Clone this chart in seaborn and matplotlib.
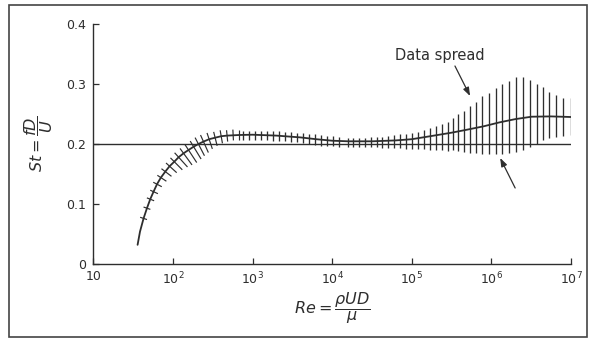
import numpy as np
import matplotlib
matplotlib.use("Agg")
import matplotlib.pyplot as plt
import seaborn as sns
from matplotlib.patches import Rectangle
from matplotlib.ticker import NullLocator
from matplotlib.collections import LineCollection

# ---------------- data ----------------
# centre curve St(Re)
curve_re = [36, 38.6, 42.8, 47.2, 51.9, 57.1, 63.1, 70.6, 80.2, 90.8, 104, 118, 136,
            157, 182, 209, 242, 285, 339, 404, 479, 676, 1000, 2000, 4000, 6300,
            1.0e4, 1.6e4, 3.2e4, 6.3e4, 1.0e5, 1.8e5, 3.2e5, 5.0e5, 8.0e5, 1.26e6,
            2.0e6, 3.2e6, 5.6e6, 1.0e7]
curve_st = [0.032, 0.054, 0.076, 0.093, 0.108, 0.1205, 0.133, 0.144, 0.154, 0.163, 0.1705,
            0.178, 0.1845, 0.19, 0.1955, 0.2, 0.204, 0.208, 0.2105, 0.213, 0.214, 0.215,
            0.2155, 0.214, 0.211, 0.208, 0.2055, 0.2045, 0.2045, 0.206, 0.208, 0.2135,
            0.219, 0.224, 0.2295, 0.236, 0.2415, 0.2455, 0.246, 0.245]

# slanted spread hatches on the rising branch (centre on curve, extent above / below)
slant_re = [42.8, 47.2, 51.9, 57.1, 63.1, 70.6, 80.2, 90.8, 104, 118, 136, 157, 182,
            209, 242, 285, 339, 404, 479, 571, 676]
slant_st = [0.076, 0.093, 0.108, 0.1205, 0.133, 0.144, 0.154, 0.163, 0.1705, 0.178,
            0.1845, 0.19, 0.1955, 0.2, 0.204, 0.208, 0.2105, 0.213, 0.214, 0.215, 0.215]
slant_up = [0.006, 0.006, 0.006, 0.006, 0.007, 0.007, 0.008, 0.008, 0.009, 0.010, 0.010,
            0.011, 0.011, 0.012, 0.012, 0.011, 0.010, 0.010, 0.009, 0.009, 0.008]
slant_dn = [0.006, 0.006, 0.007, 0.008, 0.009, 0.011, 0.013, 0.016, 0.019, 0.022, 0.024,
            0.025, 0.024, 0.022, 0.020, 0.017, 0.014, 0.012, 0.010, 0.009, 0.009]

# vertical spread bars
bar_re = [753, 904, 1074, 1268, 1507, 1795, 2153, 2559, 3048, 3589, 4276, 5082, 6095,
          7261, 8551, 10190, 12110, 15700, 18450, 21980, 25880, 30830, 36310, 42760,
          50820, 60390, 71290, 84720, 1.0e5, 1.189e5, 1.426e5, 1.694e5, 2.018e5,
          2.382e5, 2.831e5, 3.27e5, 3.85e5, 4.54e5, 5.40e5, 6.42e5, 7.71e5, 9.35e5,
          1.135e6, 1.352e6, 1.667e6, 2.03e6, 2.48e6, 3.06e6, 3.78e6, 4.50e6, 5.31e6,
          6.44e6, 8.04e6, 9.95e6]
bar_hi = [0.2225, 0.2225, 0.2225, 0.222, 0.222, 0.2215, 0.221, 0.2205, 0.220, 0.219,
          0.218, 0.217, 0.216, 0.215, 0.214, 0.213, 0.2115, 0.2095, 0.2095, 0.2105,
          0.2105, 0.211, 0.211, 0.212, 0.2133, 0.2145, 0.216, 0.2167, 0.2178, 0.220,
          0.2233, 0.226, 0.230, 0.2333, 0.237, 0.2428, 0.250, 0.255, 0.2633, 0.2705,
          0.280, 0.2855, 0.2928, 0.300, 0.3055, 0.311, 0.311, 0.3067, 0.300, 0.2945,
          0.2872, 0.2817, 0.2762, 0.2762]
bar_lo = [0.2065, 0.2065, 0.2065, 0.206, 0.206, 0.2055, 0.205, 0.2045, 0.204, 0.203,
          0.2015, 0.200, 0.1985, 0.1975, 0.1965, 0.196, 0.1958, 0.1955, 0.1955, 0.1945,
          0.1945, 0.1945, 0.1945, 0.194, 0.194, 0.193, 0.193, 0.192, 0.192, 0.191,
          0.191, 0.190, 0.190, 0.190, 0.189, 0.190, 0.1883, 0.1867, 0.1845, 0.1845,
          0.1833, 0.1828, 0.1828, 0.1833, 0.1845, 0.1872, 0.190, 0.1945, 0.200, 0.2067,
          0.2095, 0.2122, 0.2133, 0.215]

ref_st = 0.2
x_ticks = [10, 1e2, 1e3, 1e4, 1e5, 1e6, 1e7]
x_labels = ["10", r"$10^2$", r"$10^3$", r"$10^4$", r"$10^5$", r"$10^6$", r"$10^7$"]
y_ticks = [0, 0.1, 0.2, 0.3, 0.4]
y_labels = ["0", "0.1", "0.2", "0.3", "0.4"]

note_text = "Data spread"
note_pos = (2.26e5, 0.348)
arrow1_head, arrow1_tail = (5.4e5, 0.28), (3.49e5, 0.330)
arrow2_head, arrow2_tail = (1.29e6, 0.1767), (1.99e6, 0.1267)

# ---------------- style ----------------
sns.set_theme(style="ticks")
plt.rcParams["font.family"] = ["DejaVu Sans"]
plt.rcParams["mathtext.fontset"] = "dejavusans"
ink = "#2e2e2e"

fig = plt.figure(figsize=(5.89, 3.39), dpi=100)
fig.patch.set_facecolor("white")
ax = fig.add_axes([0.1584, 0.2212, 0.8110, 0.708])
ax.set_facecolor("white")
ax.set_xscale("log")
ax.set_xlim(10, 1e7)
ax.set_ylim(0, 0.4)

# reference line St = 0.2
ax.axhline(ref_st, color=ink, lw=1.0, zorder=2)

# centre curve
sns.lineplot(x=curve_re, y=curve_st, ax=ax, color=ink, lw=1.3, sort=False,
             estimator=None, zorder=3)

# vertical spread bars
ax.vlines(bar_re, bar_lo, bar_hi, color=ink, lw=0.95, zorder=2)

# slanted hatches, perpendicular to the curve in display space
pts = ax.transData.transform(np.column_stack([slant_re, slant_st]))
tx = np.gradient(pts[:, 0])
ty = np.gradient(pts[:, 1])
nrm = np.hypot(tx, ty)
nx, ny = -ty / nrm, tx / nrm
px_per_st = (ax.transData.transform((10, 0.1)) - ax.transData.transform((10, 0.0)))[1] / 0.1
up = np.asarray(slant_up) * px_per_st
dn = np.asarray(slant_dn) * px_per_st
p_top = np.column_stack([pts[:, 0] + nx * up, pts[:, 1] + ny * up])
p_bot = np.column_stack([pts[:, 0] - nx * dn, pts[:, 1] - ny * dn])
inv = ax.transData.inverted()
d_top = inv.transform(p_top)
d_bot = inv.transform(p_bot)
segs = [[tuple(a), tuple(b)] for a, b in zip(d_top, d_bot)]
ax.add_collection(LineCollection(segs, colors=ink, linewidths=0.85, zorder=2))

# annotation
ax.text(*note_pos, note_text, ha="center", va="center", fontsize=10.5, color=ink)
aprops = dict(arrowstyle="-|>,head_length=0.5,head_width=0.18", color=ink, lw=0.9,
              shrinkA=0, shrinkB=0, mutation_scale=10)
ax.annotate("", xy=arrow1_head, xytext=arrow1_tail, arrowprops=aprops)
ax.annotate("", xy=arrow2_head, xytext=arrow2_tail, arrowprops=aprops)

# axes, ticks, labels
sns.despine(ax=ax)
for s in ("left", "bottom"):
    ax.spines[s].set_color(ink)
    ax.spines[s].set_linewidth(1.0)
ax.set_xticks(x_ticks, labels=x_labels)
ax.set_yticks(y_ticks, labels=y_labels)
ax.xaxis.set_minor_locator(NullLocator())
ax.yaxis.set_minor_locator(NullLocator())
ax.tick_params(direction="in", length=4, width=0.9, color=ink, labelcolor=ink,
               labelsize=9)
ax.tick_params(axis="y", pad=5.5)
ax.tick_params(axis="x", pad=4.5)
ax.set_xlabel(r"$Re = \dfrac{\rho UD}{\mu}$", fontsize=11.5, color=ink, labelpad=2)
ax.set_ylabel(r"$St = \dfrac{fD}{U}$", fontsize=11.5, color=ink, labelpad=8)
ax.grid(False)

# outer frame
fig.patches.append(Rectangle((0.0153, 0.006), 0.9813, 0.978, transform=fig.transFigure,
                             fill=False, lw=1.2, ec="#444444"))

fig.savefig("out.png", dpi=100)
